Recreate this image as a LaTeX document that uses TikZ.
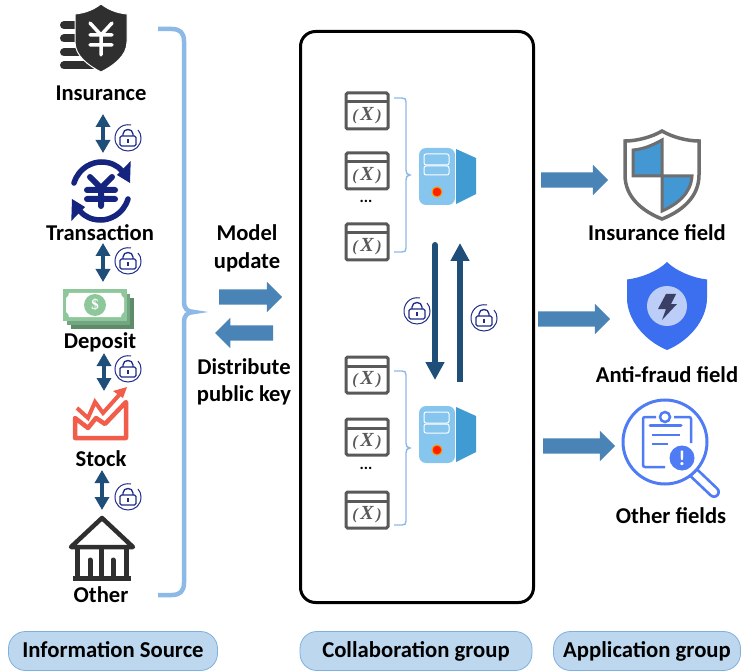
\documentclass[tikz,border=0pt]{standalone}
\usepackage{fontspec}
\setmainfont{Carlito}
\newfontfamily\winfont{Liberation Serif}
\usetikzlibrary{positioning,shapes,arrows.meta}
\definecolor{darkicon}{HTML}{2F2F2F}
\definecolor{navyicon}{HTML}{14247F}
\definecolor{lockblue}{HTML}{1F2D8A}
\definecolor{arrowblue}{HTML}{1F4E79}
\definecolor{fatblue}{HTML}{4A84B6}
\definecolor{bracelight}{HTML}{8DB9E6}
\definecolor{pillfill}{HTML}{BDD7EE}
\definecolor{pillline}{HTML}{7FB0E0}
\definecolor{wingrey}{HTML}{595959}
\definecolor{stockred}{HTML}{F25C4A}
\definecolor{srvfront}{HTML}{85C5EE}
\definecolor{srvside}{HTML}{3F9BD2}
\definecolor{shieldgrey}{HTML}{6E6E6E}
\definecolor{shieldblue}{HTML}{4397D3}
\definecolor{royal}{HTML}{3B6FF0}
\definecolor{lensblue}{HTML}{4F7CF5}
\definecolor{billfront}{HTML}{8DC79A}
\definecolor{billmid}{HTML}{74A583}
\definecolor{billback}{HTML}{5E8B68}
\definecolor{boltdark}{HTML}{3A3F66}
\definecolor{lensfill}{HTML}{BCCDF7}

\begin{document}
\begin{tikzpicture}[x=1pt, y=-1pt, node distance=40pt]
    \tikzset{
        lbl/.style = {font=\fontsize{22.6}{26}\selectfont\bfseries, inner sep=0pt, align=center},
        pill/.style = {rectangle, rounded corners=17pt, draw=pillline, fill=pillfill, line width=0.8pt, minimum height=39pt, text height=17pt, text depth=4pt, font=\fontsize{22.7}{26}\selectfont\bfseries},
        fat/.style = {single arrow, fill=fatblue, inner sep=7.5pt, single arrow head extend=7.5pt, anchor=center},
        dbl/.style = {line width=3.5pt, draw=arrowblue, {Triangle[width=14pt,length=13pt]}-{Triangle[width=14pt,length=13pt]}},
        vert/.style = {line width=6pt, draw=arrowblue, -{Triangle[width=18pt,length=18pt]}},
        bigbrace/.style = {draw=bracelight, line width=4.5pt},
        smallbrace/.style = {draw=bracelight, line width=1.4pt},
        % icons
        lockicon/.pic = {
            \draw[lockblue, line width=1pt] (3,-13) .. controls (-8,-15) and (-13,-6) .. (-13,0) .. controls (-13,8) and (-7,13) .. (0,13) .. controls (7,13) and (13,8) .. (13,0) .. controls (13,-3) and (12,-6) .. (10,-8);
            \draw[lockblue, line width=1.3pt, rounded corners=1.5pt, fill=white] (-8,-2) rectangle (8,8);
            \draw[lockblue, line width=1.3pt] (-5,-2) -- (-5,-4) .. controls (-5,-10) and (5,-10) .. (5,-4) -- (5,-2);
            \draw[lockblue, line width=1.3pt] (0,1) -- (0,5);
        },
        insicon/.pic = {
            \foreach \fy/\fx in {-13/-20, 0.5/-20, 14.5/-20, 27.5/-8}
                \draw[darkicon, line width=8pt, line cap=round] (-37,\fy) -- (\fx,\fy);
            \draw[white, line width=1pt, fill=darkicon] (0,-34) .. controls (-8,-28) and (-16,-25) .. (-26,-24) -- (-26,4) .. controls (-26,18) and (-12,28) .. (0,34) .. controls (12,28) and (26,18) .. (26,4) -- (26,-24) .. controls (16,-25) and (8,-28) .. (0,-34) -- cycle;
            \draw[white, line width=3.5pt, line cap=round] (-11,-15) -- (0,-3) -- (11,-15) (0,-3) -- (0,17) (-11,-3) -- (11,-3) (-11,7) -- (11,7);
        },
        tranicon/.pic = {
            \draw[navyicon, line width=5.5pt, line cap=round] (-27,-8) .. controls (-22,-24) and (-8,-29) .. (0,-29) .. controls (9,-29) and (16,-26) .. (21,-20);
            \draw[navyicon, line width=5.5pt, line cap=round] (27,8) .. controls (22,24) and (8,29) .. (0,29) .. controls (-9,29) and (-16,26) .. (-21,20);
            \fill[navyicon] (29.7,-30) -- (29,-8) -- (16,-16) -- cycle;
            \fill[navyicon] (-29.7,30) -- (-29,8) -- (-16,16) -- cycle;
            \draw[navyicon, line width=6pt, line cap=round] (-11,-14) -- (0,-3) -- (11,-14) (0,-3) -- (0,15) (-14,-1) -- (14,-1) (-14,8) -- (14,8);
        },
        depicon/.pic = {
            \fill[billback] (-24,-7) rectangle (39,24);
            \fill[billmid] (-28,-11) rectangle (35,20);
            \fill[billfront] (-32,-16) rectangle (32,16);
            \fill[white] (-26,-12) .. controls (-26,-10) and (-27,-8) .. (-29,-7) -- (-29,7) .. controls (-27,8) and (-26,10) .. (-26,12) -- (26,12) .. controls (26,10) and (27,8) .. (29,7) -- (29,-7) .. controls (27,-8) and (26,-10) .. (26,-12) -- cycle;
            \fill[billfront] (0,0) circle (11pt);
            \node[inner sep=0pt, text=white, font=\winfont\fontsize{15}{15}\selectfont\bfseries] (dollar) at (0,0) {\$};
        },
        stockicon/.pic = {
            \draw[stockred, line width=4.5pt, line join=round] (-26,5) -- (-13,15) -- (-5,5) -- (4,11) -- (25,-11) -- (25,25) -- (-26,25) -- cycle;
            \draw[stockred, line width=4pt] (-24,-5) -- (-13,5) -- (-6,-11) -- (2,0) -- (19,-19);
            \fill[stockred] (26,-26) -- (12,-22) -- (22,-15) -- cycle;
        },
        bankicon/.pic = {
            \draw[darkicon, line width=4.5pt, line cap=round, line join=round] (-30,-2) -- (1,-31) -- (32,-2) -- cycle;
            \foreach \cx in {-24,0,25}
                \draw[darkicon, line width=5pt] (\cx,-2) -- (\cx,28);
            \foreach \cx in {-11,12}
                \draw[darkicon, line width=5pt, line cap=round] (\cx,11) -- (\cx,28);
            \fill[darkicon] (-28,27) rectangle (30,32);
        },
        winicon/.pic = {
            \draw[wingrey, line width=3pt, rounded corners=1.5pt, fill=white] (-21,-18) rectangle (21,18);
            \draw[wingrey, line width=3pt] (-21,-9) -- (21,-9);
            \node[inner sep=0pt, text=wingrey, font=\winfont\fontsize{16}{18}\selectfont\bfseries\itshape] (winx) at (0,5) {(\,{\fontsize{20}{18}\selectfont X}\,)};
        },
        srvicon/.pic = {
            \fill[srvside] (9,-28) -- (29,-19) -- (29,17) -- (9,27) -- cycle;
            \fill[srvfront, rounded corners=7pt] (-28,-29) rectangle (8,28);
            \draw[white, line width=1pt, rounded corners=2pt] (-23,-23) rectangle (2,-12);
            \draw[white, line width=1pt, rounded corners=2pt] (-23,-11) rectangle (2,-2);
            \draw[orange!80!yellow, line width=1pt, fill=red!75!orange] (-10,15) circle (5pt);
        },
        greyshield/.pic = {
            \draw[shieldgrey, line width=3.5pt, fill=white] (0,-44) .. controls (-10,-38) and (-25,-34) .. (-37,-34) -- (-37,0) .. controls (-37,22) and (-20,36) .. (0,44) .. controls (20,36) and (37,22) .. (37,0) -- (37,-34) .. controls (25,-34) and (10,-38) .. (0,-44) -- cycle;
            \draw[shieldgrey, line width=3pt, fill=shieldblue] (-29,-25) .. controls (-18,-26) and (-9,-30) .. (0,-35) -- (0,1) -- (-29,1) -- cycle;
            \draw[shieldgrey, line width=3pt, fill=shieldblue] (0,1) -- (30,1) .. controls (29,18) and (16,29) .. (0,36) -- cycle;
        },
        blueshield/.pic = {
            \fill[royal] (0,-44) .. controls (-9,-35) and (-26,-28) .. (-40,-26.5) -- (-40,-8) .. controls (-40,14) and (-22,35) .. (0,44) .. controls (22,35) and (40,14) .. (40,-8) -- (40,-26.5) .. controls (26,-28) and (9,-35) .. (0,-44) -- cycle;
            \fill[lensfill] (0,0) circle (20pt);
            \fill[boltdark] (-1,-12) -- (9,-12) -- (4,-2) -- (10,-2) -- (-5,14) -- (-1,3) -- (-9,3) -- cycle;
        },
        lensicon/.pic = {
            \draw[lensblue, line width=12pt, line cap=round] (28,30) -- (49,50);
            \draw[white, line width=6.5pt, line cap=round] (28,30) -- (49,50);
            \draw[lensblue, line width=3pt, fill=white] (0,0) circle (42pt);
            \draw[lensblue, line width=2.5pt, rounded corners=2pt] (-9,-25) -- (-22,-25) -- (-22,25) -- (0,25);
            \draw[lensblue, line width=2.5pt, rounded corners=2pt] (9,-25) -- (26,-25) -- (26,1);
            \draw[lensblue, line width=2.5pt] (0,-25) circle (5pt);
            \draw[lensblue, line width=3pt, line cap=round] (-15,-17) -- (16,-17);
            \draw[lensblue, line width=2.5pt] (-13,-7) -- (15,-7) (-13,2) -- (3,2);
            \fill[lensblue] (17,16) circle (12.5pt);
            \node[inner sep=0pt, text=white, font=\fontsize{21}{21}\selectfont\bfseries] (warn) at (17,16) {!};
        }
    }
    \useasboundingbox (0,0) rectangle (742,671);

    % left column
    \coordinate (insurance) at (101,38);
    \coordinate (transaction) at (101,191);
    \coordinate (deposit) at (95,305);
    \coordinate (stock) at (101,413);
    \coordinate (other) at (101,549);
    \pic at (insurance) {insicon};
    \pic at (transaction) {tranicon};
    \pic at (deposit) {depicon};
    \pic at (stock) {stockicon};
    \pic at (other) {bankicon};
    \node (insurancelbl) [lbl, below of=insurance, yshift=-15pt] {Insurance};
    \node (transactionlbl) [lbl, below of=transaction, xshift=-1pt, yshift=-2pt] {Transaction};
    \node (depositlbl) [lbl, below of=deposit, xshift=5pt, yshift=3pt] {Deposit};
    \node (stocklbl) [lbl, below of=stock, yshift=-6pt] {Stock};
    \node (otherlbl) [lbl, below of=other, yshift=-6pt] {Other};

    \foreach \ax/\ay/\by/\ly in {103/114/153/138, 103/243/282/261, 104/353/391/369, 102/470/510/497}{
        \coordinate (dtop) at (\ax,\ay);
        \coordinate (dbot) at (\ax,\by);
        \draw[dbl] (dtop) -- (dbot);
        \pic at (128,\ly) {lockicon};
    }

    \draw[bigbrace] (158,29) -- (172,29) .. controls (180,29) and (184,33) .. (184,41) -- (184,302) .. controls (184,308) and (187,312) .. (194,312) .. controls (187,312) and (184,316) .. (184,322) -- (184,583) .. controls (184,591) and (180,595) .. (172,595) -- (158,595);

    % model update / public key
    \node (modellbl) [lbl, align=center] at (247,248) {Model\\[2pt]update};
    \node (keylbl) [lbl, align=center] at (244,382) {Distribute\\[1pt]public key};
    \node (fatmodel) [fat, minimum height=63pt] at (246.75,297) {};
    \node (fatkey) [fat, minimum height=58pt, shape border rotate=180] at (248,333) {};

    % collaboration box
    \node (group) [draw, rectangle, rounded corners=15pt, line width=3pt, minimum width=233pt, minimum height=571pt] at (417,317) {};

    \foreach \wy in {111,171,242,375,437,510}
        \pic at (367,\wy) {winicon};
    \node (dotsa) [inner sep=0pt, font=\fontsize{16}{16}\selectfont\bfseries] at (366,201) {...};
    \node (dotsb) [inner sep=0pt, font=\fontsize{16}{16}\selectfont\bfseries] at (366,468) {...};

    \foreach \by in {98,371}{
        \draw[smallbrace] (394,\by) -- (402,\by) .. controls (405,\by) and (406,\by+1) .. (406,\by+4) -- (406,\by+72) .. controls (406,\by+75) and (407,\by+77) .. (410,\by+77) .. controls (407,\by+77) and (406,\by+79) .. (406,\by+82) -- (406,\by+150) .. controls (406,\by+153) and (405,\by+154) .. (402,\by+154) -- (394,\by+154);
    }

    \coordinate (srvtop) at (447,177);
    \coordinate (srvlow) at (447,435);
    \pic at (srvtop) {srvicon};
    \pic at (srvlow) {srvicon};

    \coordinate (downstart) at (435,245);
    \coordinate (downend) at (435,380);
    \coordinate (upstart) at (460,382);
    \coordinate (upend) at (460,243);
    \draw[vert, line cap=round] (downstart) -- (downend);
    \draw[vert] (upstart) -- (upend);
    \pic at (417,311) {lockicon};
    \pic at (484,318) {lockicon};

    % right column
    \node (fata) [fat, minimum height=67pt] at (570.75,180) {};
    \node (fatb) [fat, minimum height=72pt] at (570.25,319) {};
    \node (fatc) [fat, minimum height=72pt] at (575.25,446) {};
    \coordinate (fieldins) at (662,175);
    \coordinate (fieldanti) at (667,306);
    \coordinate (fieldother) at (665,442);
    \pic at (fieldins) {greyshield};
    \pic at (fieldanti) {blueshield};
    \pic at (fieldother) {lensicon};
    \node (fieldinslbl) [lbl, below of=fieldins, xshift=-5pt, yshift=-18pt] {Insurance field};
    \node (fieldantilbl) [lbl, below of=fieldanti, yshift=-29pt] {Anti-fraud field};
    \node (fieldotherlbl) [lbl, below of=fieldother, xshift=6pt, yshift=-34pt] {Other fields};

    % group titles
    \node (sourcepill) [pill, minimum width=209pt] at (113,651) {Information Source};
    \node (collabpill) [pill, minimum width=232pt] at (416,651) {Collaboration group};
    \node (apppill) [pill, minimum width=187pt] at (647,651) {Application group};
\end{tikzpicture}
\end{document}
